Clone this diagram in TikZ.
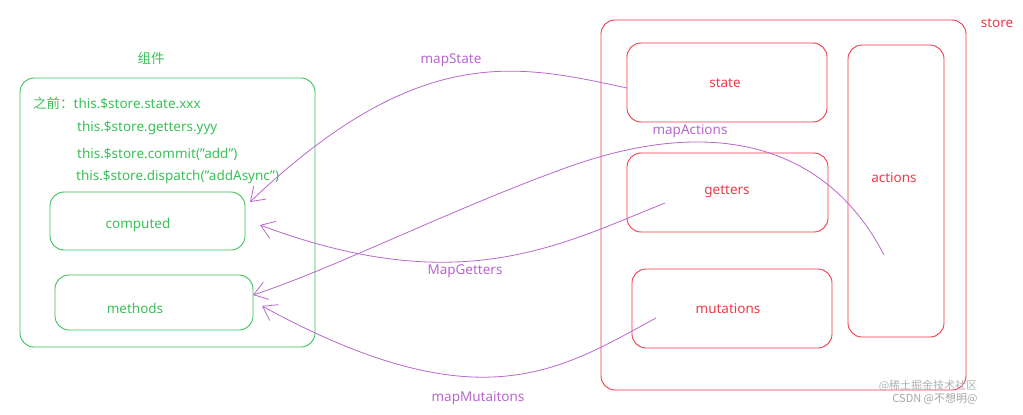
\documentclass[tikz,border=0pt]{standalone}
\usepackage{fontspec}
\setmainfont{Noto Sans}
\newfontfamily\cjk{Noto Sans CJK SC}
\usetikzlibrary{arrows.meta}
\definecolor{gr}{HTML}{3CC05A}
\definecolor{rd}{HTML}{F03A4A}
\definecolor{pu}{HTML}{B868CC}
\newcommand{\dq}{\char34\relax}
\begin{document}
\begin{tikzpicture}[x=1pt,y=-1pt,
 gbox/.style={draw=gr,line width=0.9pt,rounded corners=14pt},
 rbox/.style={draw=rd,line width=0.9pt,rounded corners=14pt},
 gt/.style={text=gr,font=\fontsize{13.5}{15}\selectfont,inner sep=0pt},
 rt/.style={text=rd,font=\fontsize{13.5}{15}\selectfont,inner sep=0pt},
 pt/.style={text=pu,font=\fontsize{13.5}{15}\selectfont,inner sep=0pt},
 con/.style={draw=pu,line width=0.8pt,-{Straight Barb[length=13pt,width=18pt]}}]
\useasboundingbox[fill=white] (0,0) rectangle (1023,415);
\node[gt] (t0) at (151,58) {\cjk 组件};
\draw[gbox] (20,78) rectangle (315,347);
\node[gt,anchor=west] (l1) at (33,103) {{\cjk 之前：}this.\$store.state.xxx};
\node[gt,anchor=west] (l2) at (77,128) {this.\$store.getters.yyy};
\node[gt,anchor=west] (l3) at (77,154) {this.\$store.commit(\dq add\dq)};
\node[gt,anchor=west] (l4) at (76,177) {this.\$store.dispatch(\dq addAsync\dq)};
\node[gbox,minimum width=195pt,minimum height=58pt] (comp) at (147.5,221) {};
\node[gt] at (138,225) {computed};
\node[gbox,minimum width=198pt,minimum height=55pt] (meth) at (154,302.5) {};
\node[gt] at (135,308) {methods};
\draw[rbox] (601,20) rectangle (966,390);
\node[rt] (st) at (997,23) {store};
\node[rbox,minimum width=200pt,minimum height=79pt] (state) at (727,82.5) {};
\node[rt] at (725,83) {state};
\node[rbox,minimum width=201pt,minimum height=79pt] (get) at (727.5,192.5) {};
\node[rt] at (727,192) {getters};
\node[rbox,minimum width=200pt,minimum height=79pt] (mut) at (732,308.5) {};
\node[rt] at (728,309) {mutations};
\node[rbox,minimum width=96pt,minimum height=292pt] (act) at (896,191) {};
\node[rt] at (894,178) {actions};
\coordinate (sA) at (627,88);
\coordinate (sG) at (665,203);
\coordinate (sM) at (656,318);
\coordinate (sC) at (884,255);
\coordinate (eC) at (250,202);
\coordinate (eG) at (260,225);
\coordinate (eM) at (253,295);
\coordinate (eMu) at (262,306);
\draw[con] (sA) .. controls (520,65) and (420,40) .. (eC);
\draw[con] (sG) .. controls (560,245) and (460,300) .. (eG);
\draw[con] (sC) .. controls (830,150) and (720,110) .. (560,170) .. controls (450,210) and (330,270) .. (eM);
\draw[con] (sM) .. controls (560,370) and (480,425) .. (eMu);
\node[pt] at (451,60) {mapState};
\node[pt] at (690,131) {mapActions};
\node[pt] at (465,271) {MapGetters};
\node[pt] at (478,398) {mapMutaitons};
\node[text=gray!60,font=\cjk\fontsize{11}{12}\selectfont,inner sep=0pt] at (928,386) {@稀土掘金技术社区};
\node[text=gray!70,font=\cjk\fontsize{11}{12}\selectfont,inner sep=0pt] at (935,399) {CSDN @不想明@};
\end{tikzpicture}
\end{document}
